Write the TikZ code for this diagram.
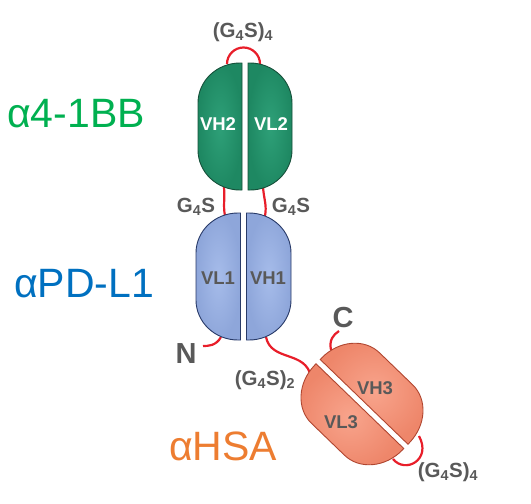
\documentclass[tikz,border=0pt]{standalone}
\usepackage{fontspec}
\setmainfont{Liberation Sans}
\definecolor{gtext}{RGB}{0,176,80}
\definecolor{btext}{RGB}{0,112,192}
\definecolor{otext}{RGB}{237,125,49}
\definecolor{greyt}{RGB}{89,89,89}
\definecolor{linker}{RGB}{232,30,42}
\definecolor{gin}{RGB}{46,160,120}
\definecolor{gout}{RGB}{30,136,98}
\definecolor{gline}{RGB}{22,80,58}
\definecolor{bin}{RGB}{166,188,234}
\definecolor{bout}{RGB}{142,166,218}
\definecolor{bline}{RGB}{40,58,104}
\definecolor{oin}{RGB}{248,164,140}
\definecolor{oout}{RGB}{238,134,106}
\definecolor{oline}{RGB}{176,70,48}
\newcommand\halfpair[8]{% cx, cy, rot, W, H, fillstyle, rx, ry
  \begin{scope}[shift={(#1,#2)},rotate=#3]
    \path[#6] (-3,#5) -- (-#4+#7,#5) arc[start angle=90,end angle=180,x radius=#7,y radius=#8]
      -- (-#4,-#5+#8) arc[start angle=180,end angle=270,x radius=#7,y radius=#8] -- (-3,-#5) -- cycle;
    \path[#6] (3,#5) -- (#4-#7,#5) arc[start angle=90,end angle=0,x radius=#7,y radius=#8]
      -- (#4,-#5+#8) arc[start angle=0,end angle=-90,x radius=#7,y radius=#8] -- (3,-#5) -- cycle;
  \end{scope}}
\begin{document}
\begin{tikzpicture}[x=1pt,y=1pt,
  bigl/.style={font=\fontsize{41}{41}\selectfont, anchor=base west, inner sep=0pt},
  glab/.style={font=\bfseries\fontsize{20.5}{20.5}\selectfont, text=greyt, anchor=base, inner sep=0pt},
  term/.style={font=\bfseries\fontsize{29}{29}\selectfont, text=greyt, anchor=base, inner sep=0pt},
  dlab/.style={font=\bfseries\fontsize{18.5}{18.5}\selectfont, inner sep=0pt},
  link/.style={draw=linker, line width=2.2pt},
  gdom/.style={draw=gline, line width=0.9pt, inner color=gin, outer color=gout},
  bdom/.style={draw=bline, line width=0.9pt, inner color=bin, outer color=bout},
  odom/.style={draw=oline, line width=0.9pt, inner color=oin, outer color=oout}]
\useasboundingbox (0,0) rectangle (531,-504);
% linker end points
\coordinate (gtl) at (227,-64);
\coordinate (gtr) at (260,-64);
\coordinate (gbl) at (224,-187);
\coordinate (gbr) at (263,-187);
\coordinate (btl) at (225,-216);
\coordinate (btr) at (265,-216);
\coordinate (bbl) at (221,-337);
\coordinate (nend) at (203,-346);
\coordinate (bbr) at (266,-337);
\coordinate (otl) at (311,-377);
\coordinate (otc) at (331,-350);
\coordinate (cend) at (339,-331);
\coordinate (obr) at (419,-436);
\coordinate (obl) at (393,-459);
% linkers
\draw[link] (gtl) arc[start angle=180,end angle=0,radius=16.5];
\draw[link] (gbl) .. controls (225,-200) and (223,-205) .. (btl);
\draw[link] (gbr) .. controls (264,-200) and (267,-205) .. (btr);
\draw[link] (bbl) .. controls (216,-346) and (208,-346) .. (nend);
\draw[link] (bbr) .. controls (271,-362) and (306,-350) .. (otl);
\draw[link] (otc) .. controls (329,-340) and (333,-335) .. (cend);
\draw[link] (obr) .. controls (432,-460) and (405,-474) .. (obl);
% domains
\halfpair{245}{-126.5}{0}{47}{63.5}{gdom}{42}{40}
\halfpair{243.5}{-276.5}{0}{47.5}{63.5}{bdom}{42}{40}
\halfpair{362}{-404}{46}{49}{61}{odom}{44}{38}
% domain labels
\node[dlab, text=white] (vh2) at (218,-124) {VH2};
\node[dlab, text=white] (vl2) at (271,-124) {VL2};
\node[dlab, text=greyt] (vl1) at (218,-278) {VL1};
\node[dlab, text=greyt] (vh1) at (268,-278) {VH1};
\node[dlab, text=greyt] (vh3) at (375,-388) {VH3};
\node[dlab, text=greyt] (vl3) at (341,-422) {VL3};
% big labels
\node[bigl, text=gtext] (l41bb) at (7,-127) {α4-1BB};
\node[bigl, text=btext] (lpdl1) at (14,-297) {αPD-L1};
\node[bigl, text=otext] (lhsa) at (169,-460) {αHSA};
% linker labels
\node[glab] (top4) at (243,-37) {(G\textsubscript{4}S)\textsubscript{4}};
\node[glab] (g4sl) at (196,-212) {G\textsubscript{4}S};
\node[glab] (g4sr) at (291,-212) {G\textsubscript{4}S};
\node[glab] (g4s2) at (265,-385) {(G\textsubscript{4}S)\textsubscript{2}};
\node[glab] (bot4) at (448,-477) {(G\textsubscript{4}S)\textsubscript{4}};
\node[term] (nterm) at (186,-363) {N};
\node[term] (cterm) at (343,-327) {C};
\end{tikzpicture}
\end{document}
